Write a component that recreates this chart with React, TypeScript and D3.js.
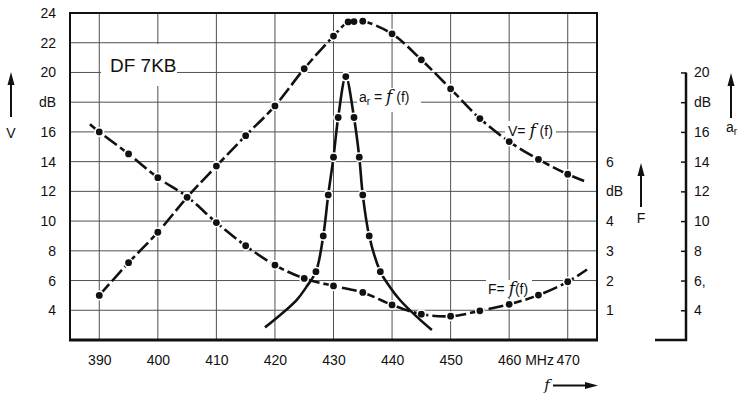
// @ts-nocheck
import { useEffect, useRef } from 'react';
import * as d3 from 'd3';

// frequency ticks (MHz)
const freqTicks = [390, 400, 410, 420, 430, 440, 450, 460, 470];

// left axis: gain V (dB)
const vTickValues = [4, 6, 8, 10, 12, 14, 16, 18, 20, 22, 24];
const vTickLabels = ['4', '6', '8', '10', '12', '14', '16', 'dB', '20', '22', '24'];

// right axis: noise figure F (dB)
const fTickValues = [1, 2, 3, 4, 5, 6];
const fTickLabels = ['1', '2', '3', '4', 'dB', '6'];

// far right axis: a_r (dB)
const arTickValues = [4, 6, 8, 10, 12, 14, 16, 18, 20];
const arTickLabels = ['4', '6,', '8', '10', '12', '14', '16', 'dB', '20'];

// V = f(f)
const vFreq = [390, 395, 400, 405, 410, 415, 420, 425, 430, 432.5, 433.5, 435, 440, 445, 450, 455, 460, 465, 470, 472.8];
const vGain = [5.0, 7.2, 9.25, 11.6, 13.7, 15.75, 17.75, 20.25, 22.45, 23.4, 23.42, 23.45, 22.6, 20.85, 18.9, 16.9, 15.35, 14.15, 13.15, 12.7];
const vMeasured = [1, 1, 1, 1, 1, 1, 1, 1, 1, 1, 1, 1, 1, 1, 1, 1, 1, 1, 1, 0];

// F = f(f)
const fFreq = [388.4, 390, 395, 400, 405, 410, 415, 420, 425, 430, 435, 440, 445, 450, 455, 460, 465, 470, 473.3];
const fNoise = [7.26, 7.0, 6.26, 5.46, 4.82, 3.95, 3.17, 2.52, 2.07, 1.82, 1.6, 1.18, 0.87, 0.8, 0.98, 1.2, 1.51, 1.96, 2.37];
const fMeasured = [0, 1, 1, 1, 1, 1, 1, 1, 1, 1, 1, 1, 1, 1, 1, 1, 1, 1, 0];

// a_r = f(f)
const arFreq = [418.3, 423.7, 425.4, 427.0, 428.25, 429.1, 430.0, 430.8, 432.1, 433.5, 434.4, 435.0, 436.1, 438.0, 439.6, 441.35, 444.2, 446.8];
const arLevel = [2.85, 4.69, 5.59, 6.6, 9.0, 11.76, 14.3, 16.97, 19.72, 16.97, 14.3, 11.76, 9.0, 6.6, 5.59, 4.69, 3.57, 2.67];
const arMeasured = [0, 0, 0, 1, 1, 1, 1, 1, 1, 1, 1, 1, 1, 1, 0, 0, 0, 0];

const W = 748;
const H = 398;
const FONT = '"Liberation Sans", Arial, sans-serif';

export default function App() {
  const svgRef = useRef<SVGSVGElement>(null);

  useEffect(() => {
    if (!svgRef.current) return;
    const svg = d3.select(svgRef.current);
    svg.selectAll('*').remove();

    const left = 70, right = 597, top = 13, bottom = 340;
    const x = d3.scaleLinear().domain([385, 475]).range([left, right]);
    const yV = d3.scaleLinear().domain([2, 24]).range([bottom, top]);
    const yF = d3.scaleLinear().domain([0, 11]).range([bottom, top]);
    const yAr = d3.scaleLinear().domain([2, 24]).range([bottom, top]);

    svg.append('rect').attr('width', W).attr('height', H).attr('fill', '#fff');

    // grid
    const grid = svg.append('g').attr('stroke', '#333').attr('stroke-width', 1).attr('opacity', 0.85);
    freqTicks.forEach((f) => {
      grid.append('line').attr('x1', x(f)).attr('x2', x(f)).attr('y1', top).attr('y2', bottom);
    });
    vTickValues.forEach((v) => {
      grid.append('line').attr('x1', left).attr('x2', right).attr('y1', yV(v)).attr('y2', yV(v));
    });

    // white patches where labels break the grid
    const blank = (x0, y0, x1, y1) =>
      svg.append('rect').attr('x', x0).attr('y', y0).attr('width', x1 - x0).attr('height', y1 - y0).attr('fill', '#fff');
    blank(101, 44, 177, 86);
    blank(357, 88, 421, 112);
    blank(505, 121, 556, 142);
    blank(486, 280, 532, 298);

    // frame
    svg.append('rect')
      .attr('x', left).attr('y', top).attr('width', right - left).attr('height', bottom - top)
      .attr('fill', 'none').attr('stroke', '#111').attr('stroke-width', 2);
    svg.append('line').attr('x1', left - 1).attr('x2', right + 1).attr('y1', bottom).attr('y2', bottom)
      .attr('stroke', '#111').attr('stroke-width', 3);

    // left axis labels
    const axL = svg.append('g').attr('transform', `translate(${left},0)`)
      .call(d3.axisLeft(yV).tickValues(vTickValues).tickSize(0).tickPadding(14)
        .tickFormat((d) => vTickLabels[vTickValues.indexOf(d)]));
    axL.select('.domain').remove();
    axL.selectAll('text').attr('font-family', FONT).attr('font-size', 14).attr('fill', '#111');

    // bottom axis labels
    const axB = svg.append('g').attr('transform', `translate(0,${bottom})`)
      .call(d3.axisBottom(x).tickValues(freqTicks).tickSize(0).tickPadding(15).tickFormat((d) => String(d)));
    axB.select('.domain').remove();
    axB.selectAll('text').attr('font-family', FONT).attr('font-size', 14).attr('fill', '#111');
    svg.append('text').attr('x', x(460) + 16).attr('y', bottom + 15).attr('dy', '0.71em')
      .attr('font-family', FONT).attr('font-size', 14).attr('fill', '#111').text('MHz');

    // F axis labels (right of frame)
    const axF = svg.append('g').attr('transform', `translate(${right},0)`)
      .call(d3.axisRight(yF).tickValues(fTickValues).tickSize(0).tickPadding(9)
        .tickFormat((d) => fTickLabels[fTickValues.indexOf(d)]));
    axF.select('.domain').remove();
    axF.selectAll('text').attr('font-family', FONT).attr('font-size', 14).attr('fill', '#111');

    // a_r axis
    const arX = 686;
    const axA = svg.append('g').attr('transform', `translate(${arX},0)`)
      .call(d3.axisRight(yAr).tickValues(arTickValues).tickSizeInner(-5).tickSizeOuter(0).tickPadding(8)
        .tickFormat((d) => arTickLabels[arTickValues.indexOf(d)]));
    axA.select('.domain').remove();
    axA.selectAll('line').attr('stroke', '#111').attr('stroke-width', 1.5);
    axA.selectAll('text').attr('font-family', FONT).attr('font-size', 14).attr('fill', '#111');
    svg.append('path')
      .attr('d', `M${arX - 31},${bottom}H${arX}V${yAr(20)}`)
      .attr('fill', 'none').attr('stroke', '#111').attr('stroke-width', 2.5);

    // arrows
    const upArrow = (cx, y0, y1) => {
      svg.append('line').attr('x1', cx).attr('x2', cx).attr('y1', y1).attr('y2', y0 + 8)
        .attr('stroke', '#111').attr('stroke-width', 2);
      svg.append('path').attr('d', `M${cx},${y0}L${cx - 3.5},${y0 + 13}L${cx + 3.5},${y0 + 13}Z`).attr('fill', '#111');
    };
    upArrow(11, 72, 117);
    upArrow(641, 163, 207);
    upArrow(731, 73, 118);
    svg.append('line').attr('x1', 553).attr('x2', 590).attr('y1', 385.5).attr('y2', 385.5)
      .attr('stroke', '#111').attr('stroke-width', 2);
    svg.append('path').attr('d', 'M598,385.5L585,382L585,389Z').attr('fill', '#111');

    const label = (tx, ty, txt, size = 14, anchor = 'middle') =>
      svg.append('text').attr('x', tx).attr('y', ty).attr('text-anchor', anchor)
        .attr('font-family', FONT).attr('font-size', size).attr('fill', '#111').text(txt);
    label(11, 138, 'V');
    label(641, 223, 'F');
    const ar = svg.append('text').attr('x', 726).attr('y', 132)
      .attr('font-family', FONT).attr('font-size', 14).attr('fill', '#111');
    ar.append('tspan').text('a');
    ar.append('tspan').attr('font-size', 10).attr('dy', 3).text('r');
    svg.append('text').attr('x', 547).attr('y', 390).attr('text-anchor', 'middle')
      .attr('font-family', 'DejaVu Serif, serif').attr('font-style', 'italic').attr('font-size', 15)
      .attr('fill', '#111').text('f');

    // title
    label(110, 72, 'DF 7KB', 19, 'start');

    // curve labels
    const fnLabel = (tx, ty, parts) => {
      const t = svg.append('text').attr('x', tx).attr('y', ty)
        .attr('font-family', FONT).attr('font-size', 14).attr('fill', '#111');
      parts.forEach(([s, opt]) => {
        const sp = t.append('tspan').text(s);
        if (opt === 'sub') sp.attr('font-size', 10).attr('dy', 3);
        if (opt === 'up') sp.attr('dy', -3);
        if (opt === 'fn') sp.attr('font-family', 'DejaVu Serif, serif').attr('font-style', 'italic').attr('font-size', 17);
      });
      return t;
    };
    fnLabel(359, 102, [['a'], ['r', 'sub'], [' = ', 'up'], ['f', 'fn'], [' (f)']]);
    fnLabel(508, 136, [['V= '], ['f', 'fn'], [' (f)']]);
    fnLabel(488, 294, [['F= '], ['f', 'fn'], ['(f)']]);

    // curves
    const drawCurve = (fs, vs, marks, yScale, dash) => {
      const pts = fs.map((f, i) => [x(f), yScale(vs[i])]);
      const line = d3.line().curve(d3.curveCatmullRom.alpha(0.5));
      svg.append('path').datum(pts).attr('d', line)
        .attr('fill', 'none').attr('stroke', '#111').attr('stroke-width', 2.6)
        .attr('stroke-dasharray', dash);
      const g = svg.append('g');
      pts.forEach((p, i) => {
        if (!marks[i]) return;
        g.append('circle').attr('cx', p[0]).attr('cy', p[1]).attr('r', 5).attr('fill', '#fff');
      });
      pts.forEach((p, i) => {
        if (!marks[i]) return;
        g.append('circle').attr('cx', p[0]).attr('cy', p[1]).attr('r', 3.4).attr('fill', '#111');
      });
    };
    drawCurve(fFreq, fNoise, fMeasured, yF, '15 4');
    drawCurve(vFreq, vGain, vMeasured, yV, '15 4');
    drawCurve(arFreq, arLevel, arMeasured, yAr, null);
  }, []);

  return (
    <svg
      ref={svgRef}
      width={W}
      height={H}
      style={{ position: 'absolute', left: 0, top: 0, background: '#fff' }}
    />
  );
}
